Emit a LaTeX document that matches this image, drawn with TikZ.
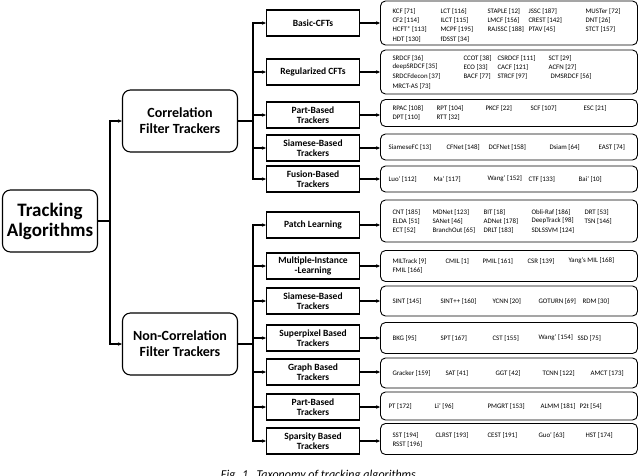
\documentclass[tikz,border=0pt]{standalone}
\usepackage{fontspec}
\setmainfont{Carlito}
\usetikzlibrary{arrows.meta}
\begin{document}
\begin{tikzpicture}[x=1pt,y=-1pt,
  line width=1.1pt,
  root/.style={draw,rounded corners=8pt,align=center,font=\fontsize{19}{20}\selectfont\bfseries,minimum width=95pt,minimum height=62pt,inner sep=1pt},
  mid/.style={draw,rounded corners=8pt,align=center,font=\fontsize{14}{16}\selectfont\bfseries,minimum width=115pt,minimum height=62pt,inner sep=1pt},
  cat/.style={draw,align=center,font=\fontsize{9.5}{10.5}\selectfont\bfseries,minimum width=93pt,minimum height=26pt,inner sep=0.5pt},
  lst/.style={draw,line width=0.9pt,rounded corners=5pt,minimum width=257pt,inner sep=0pt},
  t/.style={anchor=west,font=\fontsize{6.9}{8}\selectfont,inner sep=0pt},
  ar/.style={-{Stealth[length=4pt,width=3.5pt]}}]
\useasboundingbox (0,0) rectangle (640,475);
\node[root] (root) at (50,221) {Tracking\\Algorithms};
\node[mid] (cf) at (180,121) {Correlation\\Filter Trackers};
\node[mid] (ncf) at (180,344) {Non-Correlation\\Filter Trackers};
\coordinate (tr) at (110,221);
\draw (root.east) -- (tr);
\draw[ar] (tr) |- (cf.west);
\draw[ar] (tr) |- (ncf.west);
% categories
\node[cat] (c1) at (313,23) {Basic-CFTs};
\node[cat] (c2) at (313,72) {Regularized CFTs};
\node[cat] (c3) at (313,115) {Part-Based\\Trackers};
\node[cat] (c4) at (313,148) {Siamese-Based\\Trackers};
\node[cat] (c5) at (313,179) {Fusion-Based\\Trackers};
\node[cat] (n1) at (313,225) {Patch Learning};
\node[cat] (n2) at (313,266) {Multiple-Instance\\-Learning};
\node[cat] (n3) at (313,301) {Siamese-Based\\Trackers};
\node[cat] (n4) at (313,338) {Superpixel Based\\Trackers};
\node[cat] (n5) at (313,372) {Graph Based\\Trackers};
\node[cat] (n6) at (313,407) {Part-Based\\Trackers};
\node[cat] (n7) at (313,441) {Sparsity Based\\Trackers};
\coordinate (b1) at (253,121);
\coordinate (b2) at (253,344);
\draw (cf.east) -- (b1);
\draw (ncf.east) -- (b2);
\foreach \n in {c1,c2,c3,c4,c5} \draw[ar] (b1) |- (\n.west);
\foreach \n in {n1,n2,n3,n4,n5,n6,n7} \draw[ar] (b2) |- (\n.west);
% list boxes
\node[lst,minimum height=44pt] (l1) at (509,23) {};
\node[lst,minimum height=44pt] (l2) at (509,72) {};
\node[lst,minimum height=27pt] (l3) at (509,113) {};
\node[lst,minimum height=26pt] (l4) at (509,147) {};
\node[lst,minimum height=26pt] (l5) at (509,179) {};
\node[lst,minimum height=42pt] (m1) at (509,221) {};
\node[lst,minimum height=31pt] (m2) at (509,266) {};
\node[lst,minimum height=30pt] (m3) at (509,301) {};
\node[lst,minimum height=31pt] (m4) at (509,338) {};
\node[lst,minimum height=30pt] (m5) at (509,373) {};
\node[lst,minimum height=28pt] (m6) at (509,406) {};
\node[lst,minimum height=31pt] (m7) at (509,439) {};
\foreach \a/\b in {c1/l1,c2/l2,c3/l3,c4/l4,c5/l5,n1/m1,n2/m2,n3/m3,n4/m4,n5/m5,n6/m6,n7/m7}
  \draw[ar] (\a.east) -- (\a.east -| \b.west);
% texts
\node[t] (a1) at (392,11) {KCF [71]};
\node[t] (a2) at (440,11) {LCT [116]};
\node[t] (a3) at (487,11) {STAPLE [12]};
\node[t] (a4) at (528,11) {JSSC [187]};
\node[t] (a5) at (585,11) {MUSTer [72]};
\node[t] (a6) at (392,20) {CF2 [114]};
\node[t] (a7) at (440,20) {ILCT [115]};
\node[t] (a8) at (487,20) {LMCF [156]};
\node[t] (a9) at (528,20) {CREST [142]};
\node[t] (a10) at (585,20) {DNT [26]};
\node[t] (a11) at (392,29.5) {HCFT* [113]};
\node[t] (a12) at (440,29.5) {MCPF [195]};
\node[t] (a13) at (487,29.5) {RAJSSC [188]};
\node[t] (a14) at (528,29.5) {PTAV [45]};
\node[t] (a15) at (585,29.5) {STCT [157]};
\node[t] (a16) at (392,39) {HDT [130]};
\node[t] (a17) at (440,39) {fDSST [34]};
\node[t] (r1) at (392,58) {SRDCF [36]};
\node[t] (r2) at (463,58) {CCOT [38]};
\node[t] (r3) at (497,58) {CSRDCF [111]};
\node[t] (r4) at (548,58) {SCT [29]};
\node[t] (r5) at (392,67) {deepSRDCF [35]};
\node[t] (r6) at (463,67) {ECO [33]};
\node[t] (r7) at (497,67) {CACF [121]};
\node[t] (r8) at (548,67) {ACFN [27]};
\node[t] (r9) at (392,76.5) {SRDCFdecon [37]};
\node[t] (r10) at (463,76.5) {BACF [77]};
\node[t] (r11) at (497,76.5) {STRCF [97]};
\node[t] (r12) at (550,76.5) {DMSRDCF [56]};
\node[t] (r13) at (392,86) {MRCT-AS [73]};
\node[t] (p1) at (392,108) {RPAC [108]};
\node[t] (p2) at (436,108) {RPT [104]};
\node[t] (p3) at (485,108) {PKCF [22]};
\node[t] (p4) at (530,108) {SCF [107]};
\node[t] (p5) at (583,108) {ESC [21]};
\node[t] (p6) at (392,117.5) {DPT [110]};
\node[t] (p7) at (436,117.5) {RTT [32]};
\node[t] (s1) at (388,147) {SiameseFC [13]};
\node[t] (s2) at (446,147) {CFNet [148]};
\node[t] (s3) at (488,147) {DCFNet [158]};
\node[t] (s4) at (549,147) {Dsiam [64]};
\node[t] (s5) at (598,147) {EAST [74]};
\node[t] (f1) at (388,179) {Luo' [112]};
\node[t] (f2) at (433,179) {Ma' [117]};
\node[t] (f3) at (487,179) {Wang' [152]};
\node[t] (f4) at (528,179) {CTF [133]};
\node[t] (f5) at (578,179) {Bai' [10]};
\node[t] (q1) at (392,212) {CNT [185]};
\node[t] (q2) at (432,212) {MDNet [123]};
\node[t] (q3) at (483,212) {BIT [18]};
\node[t] (q4) at (531,212) {Obli-Raf [186]};
\node[t] (q5) at (584,212) {DRT [53]};
\node[t] (q6) at (392,221) {ELDA [51]};
\node[t] (q7) at (432,221) {SANet [46]};
\node[t] (q8) at (483,221) {ADNet [178]};
\node[t] (q9) at (531,221) {DeepTrack [98]};
\node[t] (q10) at (584,221) {TSN [146]};
\node[t] (q11) at (392,230) {ECT [52]};
\node[t] (q12) at (432,230) {BranchOut [65]};
\node[t] (q13) at (483,230) {DRLT [183]};
\node[t] (q14) at (531,230) {SDLSSVM [124]};
\node[t] (i1) at (392,261) {MILTrack [9]};
\node[t] (i2) at (445,261) {CMIL [1]};
\node[t] (i3) at (482,261) {PMIL [161]};
\node[t] (i4) at (527,261) {CSR [139]};
\node[t] (i5) at (568,261) {Yang's MIL [168]};
\node[t] (i6) at (392,270.5) {FMIL [166]};
\node[t] (g1) at (392,301) {SINT [145]};
\node[t] (g2) at (440,301) {SINT++ [160]};
\node[t] (g3) at (492,301) {YCNN [20]};
\node[t] (g4) at (538,301) {GOTURN [69]};
\node[t] (g5) at (582,301) {RDM [30]};
\node[t] (u1) at (392,338) {BKG [95]};
\node[t] (u2) at (440,338) {SPT [167]};
\node[t] (u3) at (492,338) {CST [155]};
\node[t] (u4) at (538,338) {Wang' [154]};
\node[t] (u5) at (577,338) {SSD [75]};
\node[t] (h1) at (392,373) {Gracker [159]};
\node[t] (h2) at (445,373) {SAT [41]};
\node[t] (h3) at (495,373) {GGT [42]};
\node[t] (h4) at (542,373) {TCNN [122]};
\node[t] (h5) at (590,373) {AMCT [173]};
\node[t] (k1) at (388,406) {PT [172]};
\node[t] (k2) at (434,406) {Li' [96]};
\node[t] (k3) at (487,406) {PMGRT [153]};
\node[t] (k4) at (540,406) {ALMM [181]};
\node[t] (k5) at (579,406) {P2t [54]};
\node[t] (v1) at (392,435) {SST [194]};
\node[t] (v2) at (435,435) {CLRST [193]};
\node[t] (v3) at (487,435) {CEST [191]};
\node[t] (v4) at (538,435) {Guo' [63]};
\node[t] (v5) at (585,435) {HST [174]};
\node[t] (v6) at (392,444.5) {RSST [196]};
\node[anchor=base,font=\fontsize{12}{12}\selectfont\itshape] (cap) at (320,478) {Fig. 1.\ \ Taxonomy of tracking algorithms.};
\end{tikzpicture}
\end{document}
